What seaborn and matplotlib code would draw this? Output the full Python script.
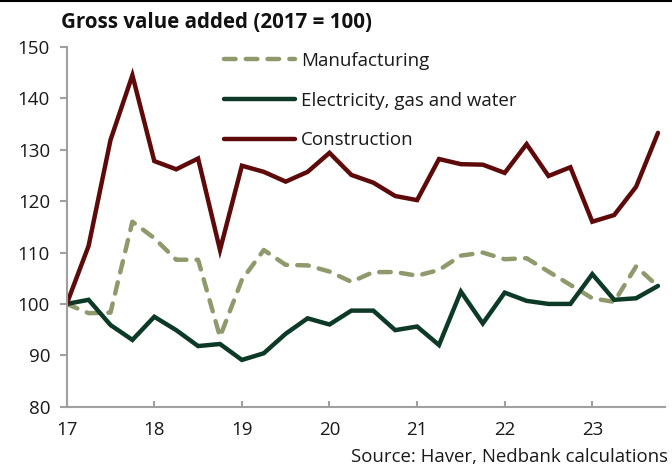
import numpy as np
import pandas as pd
import matplotlib
matplotlib.use("Agg")
import matplotlib.pyplot as plt
from matplotlib.lines import Line2D
import seaborn as sns

# ---- data (quarterly, 2017Q1 .. 2023Q4) ----
quarters = [17 + i * 0.25 for i in range(28)]
manufacturing = [100.0, 98.2, 98.3, 116.0, 112.8, 108.6, 108.6, 93.6,
                 104.7, 110.5, 107.6, 107.5, 106.3, 104.3, 106.2, 106.2,
                 105.5, 106.6, 109.4, 110.0, 108.7, 108.9, 106.3, 103.7,
                 101.1, 100.4, 107.3, 103.4]
electricity = [100.0, 100.8, 95.9, 93.0, 97.5, 94.9, 91.8, 92.2,
               89.1, 90.4, 94.2, 97.2, 96.0, 98.7, 98.7, 94.9,
               95.6, 92.0, 102.4, 96.2, 102.2, 100.6, 100.0, 100.0,
               105.8, 100.8, 101.1, 103.5]
construction = [100.0, 111.3, 131.9, 144.5, 127.8, 126.2, 128.3, 110.5,
                126.9, 125.7, 123.8, 125.7, 129.4, 125.1, 123.6, 121.0,
                120.2, 128.2, 127.2, 127.1, 125.5, 131.1, 124.9, 126.6,
                116.0, 117.3, 122.8, 133.3]
series_names = ["Manufacturing", "Electricity, gas and water", "Construction"]
y_ticks = [80, 90, 100, 110, 120, 130, 140, 150]
x_ticks = [17, 18, 19, 20, 21, 22, 23]
x_ticklabels = ["17", "18", "19", "20", "21", "22", "23"]
title = "Gross value added (2017 = 100)"
source = "Source: Haver, Nedbank calculations"

colors = ["#8F9A6C", "#0D3A26", "#5E0A0A"]

sns.set_style("white")
plt.rcParams["font.family"] = ["Open Sans", "DejaVu Sans"]

fig = plt.figure(figsize=(6.72, 4.68), dpi=100)
ax = fig.add_axes([66.7 / 672, 1 - 406.7 / 468, (665 - 66.7) / 672, (406.7 - 47) / 468])

data = [manufacturing, electricity, construction]
for name, vals, col in zip(series_names, data, colors):
    df = pd.DataFrame({"q": quarters, "v": vals})
    sns.lineplot(data=df, x="q", y="v", ax=ax, color=col, linewidth=3.2,
                 label=name, legend=False)

lines = ax.get_lines()
lines[0].set_dashes((2.6, 2.3))
lines[0].set_dash_capstyle("round")
for ln in lines:
    ln.set_solid_capstyle("round")
    ln.set_solid_joinstyle("miter")

ax.set_xlim(17, 23.83)
ax.set_ylim(80, 150)
ax.set_xticks(x_ticks)
ax.set_xticklabels(x_ticklabels)
ax.set_yticks(y_ticks)
ax.set_xlabel("")
ax.set_ylabel("")

for side in ["top", "right"]:
    ax.spines[side].set_visible(False)
for side in ["left", "bottom"]:
    ax.spines[side].set_color("#A0A0A0")
    ax.spines[side].set_linewidth(1.5)

ax.tick_params(axis="y", direction="out", length=5, width=1.5, color="#A0A0A0",
               labelsize=13.5, pad=7, left=True)
ax.tick_params(axis="x", direction="in", length=4, width=1.5, color="#A0A0A0",
               labelsize=13.5, pad=10, bottom=True)
for lbl in ax.get_xticklabels() + ax.get_yticklabels():
    lbl.set_color("#1a1a1a")

handles = [Line2D([], [], color=colors[0], linewidth=3.2, dashes=(2.6, 2.3),
                  dash_capstyle="round"),
           Line2D([], [], color=colors[1], linewidth=3.2, solid_capstyle="round"),
           Line2D([], [], color=colors[2], linewidth=3.2, solid_capstyle="round")]
leg = ax.legend(handles, series_names, loc="upper left",
                bbox_to_anchor=(224 / 672, 1 - 52 / 468), bbox_transform=fig.transFigure,
                frameon=False, fontsize=13.5, handlelength=3.8, handletextpad=0.32,
                labelspacing=1.15, borderpad=0, borderaxespad=0)
for t in leg.get_texts():
    t.set_color("#1a1a1a")

fig.text(61 / 672, 1 - 22 / 468, title, fontsize=14.8, fontweight="bold",
         ha="left", va="center", color="#111111")
fig.text(668 / 672, 1 - 457 / 468, source, fontsize=13.4, ha="right", va="center",
         color="#1a1a1a")
fig.add_artist(Line2D([0, 1], [1 - 0.8 / 468, 1 - 0.8 / 468], transform=fig.transFigure,
                      color="black", linewidth=1.5))

fig.savefig("out.png", dpi=100)
